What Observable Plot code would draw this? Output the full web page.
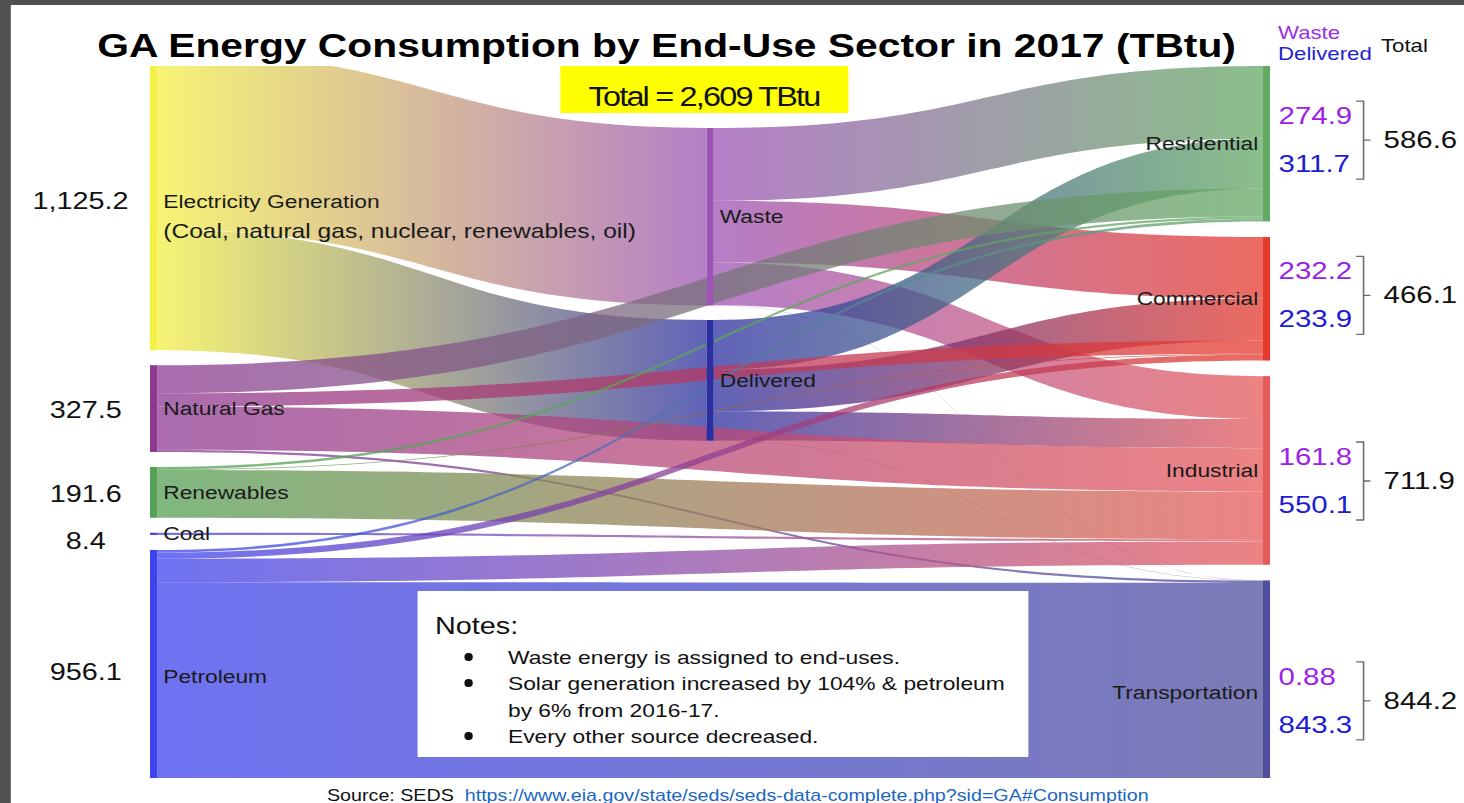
<!DOCTYPE html>
<html>
<head>
<meta charset="utf-8">
<script src="https://cdn.jsdelivr.net/npm/d3@7"></script>
<script src="https://cdn.jsdelivr.net/npm/@observablehq/plot@0.6"></script>
<style>
  html, body { margin: 0; padding: 0; background: #fff; overflow: hidden; width: 1464px; height: 803px; }
  #stage { position: absolute; left: 0; top: 0; width: 1220px; height: 803px; transform: scaleX(1.2); transform-origin: 0 0;
           font-family: "Liberation Sans", Arial, Helvetica, sans-serif; color: #111; }
  .abs { position: absolute; white-space: nowrap; line-height: 1; }
  .dot { position: absolute; width: 6.5px; height: 8px; border-radius: 50%; background: #111; }
</style>
</head>
<body>
<div id="stage">
  <div id="chart" class="abs" style="left:0;top:0"></div>
  <div class="abs" style="left:0;top:0;width:8.5px;height:803px;background:#505050"></div>
  <div class="abs" style="left:0;top:0;width:1220px;height:5px;background:#505050"></div>

  <div class="abs" style="left:81px;top:27.9px;font-size:34px;font-weight:bold;color:#000">GA Energy Consumption by End-Use Sector in 2017 (TBtu)</div>

  <div class="abs" style="left:1065px;top:23.6px;font-size:18.5px;color:#9b2ee6">Waste</div>
  <div class="abs" style="left:1065px;top:45px;font-size:18.5px;color:#2323d2">Delivered</div>
  <div class="abs" style="left:1150.8px;top:37px;font-size:18.5px;color:#111">Total</div>

  <div class="abs" style="left:466.7px;top:66px;width:240px;height:47px;background:#ffff00"></div>
  <div id="grand" class="abs" style="left:466.7px;top:84px;width:240px;text-align:center;font-size:27px;letter-spacing:-1.5px;color:#111"></div>

  <div class="abs" style="left:348.3px;top:591px;width:508.4px;height:166px;background:#fff"></div>
  <div class="abs" style="left:362.5px;top:614.3px;font-size:24px;color:#111">Notes:</div>
  <div class="dot" style="left:387px;top:653px"></div>
  <div class="abs" style="left:423.3px;top:647.7px;font-size:19px;color:#111">Waste energy is assigned to end-uses.</div>
  <div class="dot" style="left:387px;top:679px"></div>
  <div class="abs" style="left:423.3px;top:673.7px;font-size:19px;color:#111">Solar generation increased by 104% &amp; petroleum</div>
  <div class="abs" style="left:423.3px;top:700.7px;font-size:19px;color:#111">by 6% from 2016-17.</div>
  <div class="dot" style="left:387px;top:732px"></div>
  <div class="abs" style="left:423.3px;top:726.7px;font-size:19px;color:#111">Every other source decreased.</div>

  <div class="abs" style="left:272.5px;top:786.8px;font-size:16.4px;color:#111">Source: SEDS&nbsp;&nbsp;<span style="color:#1a66c2">https://www.eia.gov/state/seds/seds-data-complete.php?sid=GA#Consumption</span></div>
</div>

<script>
// ---------------- DATA (TBtu) ----------------
const sources = ["Electricity Generation", "Natural Gas", "Renewables", "Coal", "Petroleum"];
const sourceTotals = [1125.2, 327.5, 191.6, 8.4, 956.1];
const electricityNote = "(Coal, natural gas, nuclear, renewables, oil)";
const stages = ["Waste", "Delivered"];
const sectors = ["Residential", "Commercial", "Industrial", "Transportation"];
const sectorWaste = [274.9, 232.2, 161.8, 0.88];
const sectorDelivered = [311.7, 233.9, 550.1, 843.3];
const sectorTotals = [586.6, 466.1, 711.9, 844.2];
// flows to sectors (Residential, Commercial, Industrial, Transportation)
const electricityDeliveredTo = [186.9, 157.9, 110.0, 0.62];
const naturalGasTo = [106.0, 50.0, 163.5, 8.0];
const renewablesTo = [8.8, 3.0, 179.8, 0];
const coalTo = [0, 0, 8.4, 0];
const petroleumTo = [10.0, 23.0, 88.4, 834.7];

// ---------------- STYLE ----------------
const sourceColors = ["#f3f046", "#8d3a93", "#54a054", "#4646dc", "#3d44ee"];
const stageColors = ["#9c53b4", "#2c2fa0"];
const sectorColors = ["#63a963", "#e5392c", "#e65a5a", "#4f4f9e"];

// ---------------- LAYOUT ----------------
const W = 1220, H = 803, mL = 125, mR = 161.5;
const frameTop = 66, frameBottom = 778;
const k = 0.265;                       // px per TBtu
const innerW = W - mL - mR;
const nodeW = 6 / innerW;
const colX = c => c * (1 - nodeW) / 2;
const colTopPx = [52, 128, 66], colGapPx = [15, 14.5, 15.6];
const toY = px => (px - frameTop) / k;
const xOff = px => px / innerW;
const sourceValueShiftPx = [0, 1, 1, 7, -5];
const sourceValueDxPx = [-58.5, -54, -54, -54, -54];
const bracketShiftPx = [-4, -4, 10, 8];

const nodes = [
  ...sources.map((name, i) => ({name, col: 0, color: sourceColors[i], total: sourceTotals[i], i})),
  ...stages.map((name, i) => ({name, col: 1, color: stageColors[i], i})),
  ...sectors.map((name, i) => ({name, col: 2, color: sectorColors[i], i,
      waste: sectorWaste[i], delivered: sectorDelivered[i], total: sectorTotals[i]}))
];
const byName = new Map(nodes.map(n => [n.name, n]));

const links = [];
links.push({source: sources[0], target: "Waste", value: d3.sum(sectorWaste)});
links.push({source: sources[0], target: "Delivered", value: d3.sum(electricityDeliveredTo)});
[["Waste", sectorWaste], ["Delivered", electricityDeliveredTo], ["Natural Gas", naturalGasTo],
 ["Renewables", renewablesTo], ["Coal", coalTo], ["Petroleum", petroleumTo]]
  .forEach(([src, vals]) => vals.forEach((v, j) => { if (v > 0) links.push({source: src, target: sectors[j], value: v}); }));
links.forEach(l => { l.s = byName.get(l.source); l.t = byName.get(l.target); });

nodes.forEach(n => {
  n.outs = links.filter(l => l.s === n);
  n.ins = links.filter(l => l.t === n);
  n.value = Math.max(d3.sum(n.outs, l => l.value), d3.sum(n.ins, l => l.value));
});
[0, 1, 2].forEach(c => {
  let y = toY(colTopPx[c]);
  nodes.filter(n => n.col === c).forEach(n => { n.y0 = y; n.y1 = y + n.value; y = n.y1 + colGapPx[c] / k; });
});
nodes.forEach(n => {
  n.x0 = colX(n.col); n.x1 = n.x0 + nodeW; n.cy = (n.y0 + n.y1) / 2;
  let y = n.y0;
  n.outs.slice().sort((a, b) => a.t.y0 - b.t.y0).forEach(l => { l.sy0 = y; l.sy1 = y + l.value; y = l.sy1; });
  y = n.y0;
  n.ins.slice().sort((a, b) => a.s.y0 - b.s.y0).forEach(l => { l.ty0 = y; l.ty1 = y + l.value; y = l.ty1; });
});

const leftNodes = nodes.filter(n => n.col === 0);
const midNodes = nodes.filter(n => n.col === 1);
const rightNodes = nodes.filter(n => n.col === 2);
rightNodes.forEach(n => { n.bc = n.cy + bracketShiftPx[n.i] / k; });

const fmt = v => v < 1 ? v.toFixed(2) : d3.format(",.1f")(v);

const bracketPts = [];
rightNodes.forEach(n => {
  const a = n.bc - 39 / k, b = n.bc + 39 / k;
  bracketPts.push({z: n.name + "b", x: 1 + xOff(71.5), y: a}, {z: n.name + "b", x: 1 + xOff(77.3), y: a},
                  {z: n.name + "b", x: 1 + xOff(77.3), y: b}, {z: n.name + "b", x: 1 + xOff(71.5), y: b});
  bracketPts.push({z: n.name + "t", x: 1 + xOff(77.3), y: n.bc}, {z: n.name + "t", x: 1 + xOff(82.5), y: n.bc});
});

const linkMarks = links.map((l, i) => Plot.area(
  [{x: l.s.x1, y1: l.sy0, y2: l.sy1}, {x: l.t.x0, y1: l.ty0, y2: l.ty1}],
  {x1: "x", y1: "y1", y2: "y2", curve: "bump-x", fill: `url(#lg${i})`, fillOpacity: 0.75, clip: true}
));

const labelFill = "#1a1a1a";
const chart = Plot.plot({
  width: W, height: H,
  marginTop: frameTop, marginBottom: H - frameBottom, marginLeft: mL, marginRight: mR,
  x: {domain: [0, 1], axis: null},
  y: {domain: [0, (frameBottom - frameTop) / k], reverse: true, axis: null},
  color: {type: "identity"},
  style: {background: "transparent", fontFamily: "'Liberation Sans', Arial, Helvetica, sans-serif", overflow: "visible"},
  marks: [
    ...linkMarks,
    Plot.rect(nodes, {x1: "x0", x2: "x1", y1: "y0", y2: "y1", fill: "color", clip: true}),
    Plot.text([...leftNodes, ...midNodes], {x: "x1", y: "cy", text: "name", dx: 4.5, textAnchor: "start", fontSize: 19, fill: labelFill}),
    Plot.text([byName.get(sources[0])], {x: "x1", y: "cy", text: () => electricityNote, dx: 4.5, dy: 30, textAnchor: "start", fontSize: 20.5, fill: labelFill}),
    Plot.text(rightNodes, {x: "x0", y: "cy", text: "name", dx: -4.5, textAnchor: "end", fontSize: 19, fill: labelFill}),
    Plot.text(leftNodes, {x: d => d.x0 + xOff(sourceValueDxPx[d.i]), y: d => d.cy + sourceValueShiftPx[d.i] / k,
      text: d => fmt(d.total), textAnchor: "middle", fontSize: 24, fill: "#111"}),
    Plot.text(rightNodes, {x: "x1", y: d => d.bc - 24 / k, text: d => fmt(d.waste), dx: 6.5, textAnchor: "start", fontSize: 24.5, fill: "#9b22e6"}),
    Plot.text(rightNodes, {x: "x1", y: d => d.bc + 24 / k, text: d => fmt(d.delivered), dx: 6.5, textAnchor: "start", fontSize: 24.5, fill: "#1c1cd4"}),
    Plot.text(rightNodes, {x: "x1", y: "bc", text: d => fmt(d.total), dx: 94, textAnchor: "start", fontSize: 24.5, fill: "#111"}),
    Plot.line(bracketPts, {x: "x", y: "y", z: "z", stroke: "#6b6b6b", strokeWidth: 1.3})
  ]
});
document.getElementById("chart").appendChild(chart);

// gradients for the links (source colour -> target colour)
const defs = d3.select(chart).insert("defs", ":first-child");
links.forEach((l, i) => {
  const g = defs.append("linearGradient").attr("id", `lg${i}`)
    .attr("x1", "0").attr("x2", "1").attr("y1", "0").attr("y2", "0");
  g.append("stop").attr("offset", "0").attr("stop-color", l.s.color);
  g.append("stop").attr("offset", "1").attr("stop-color", l.t.color);
});

document.getElementById("grand").textContent = `Total = ${d3.format(",.0f")(d3.sum(sourceTotals))} TBtu`;
</script>
</body>
</html>
